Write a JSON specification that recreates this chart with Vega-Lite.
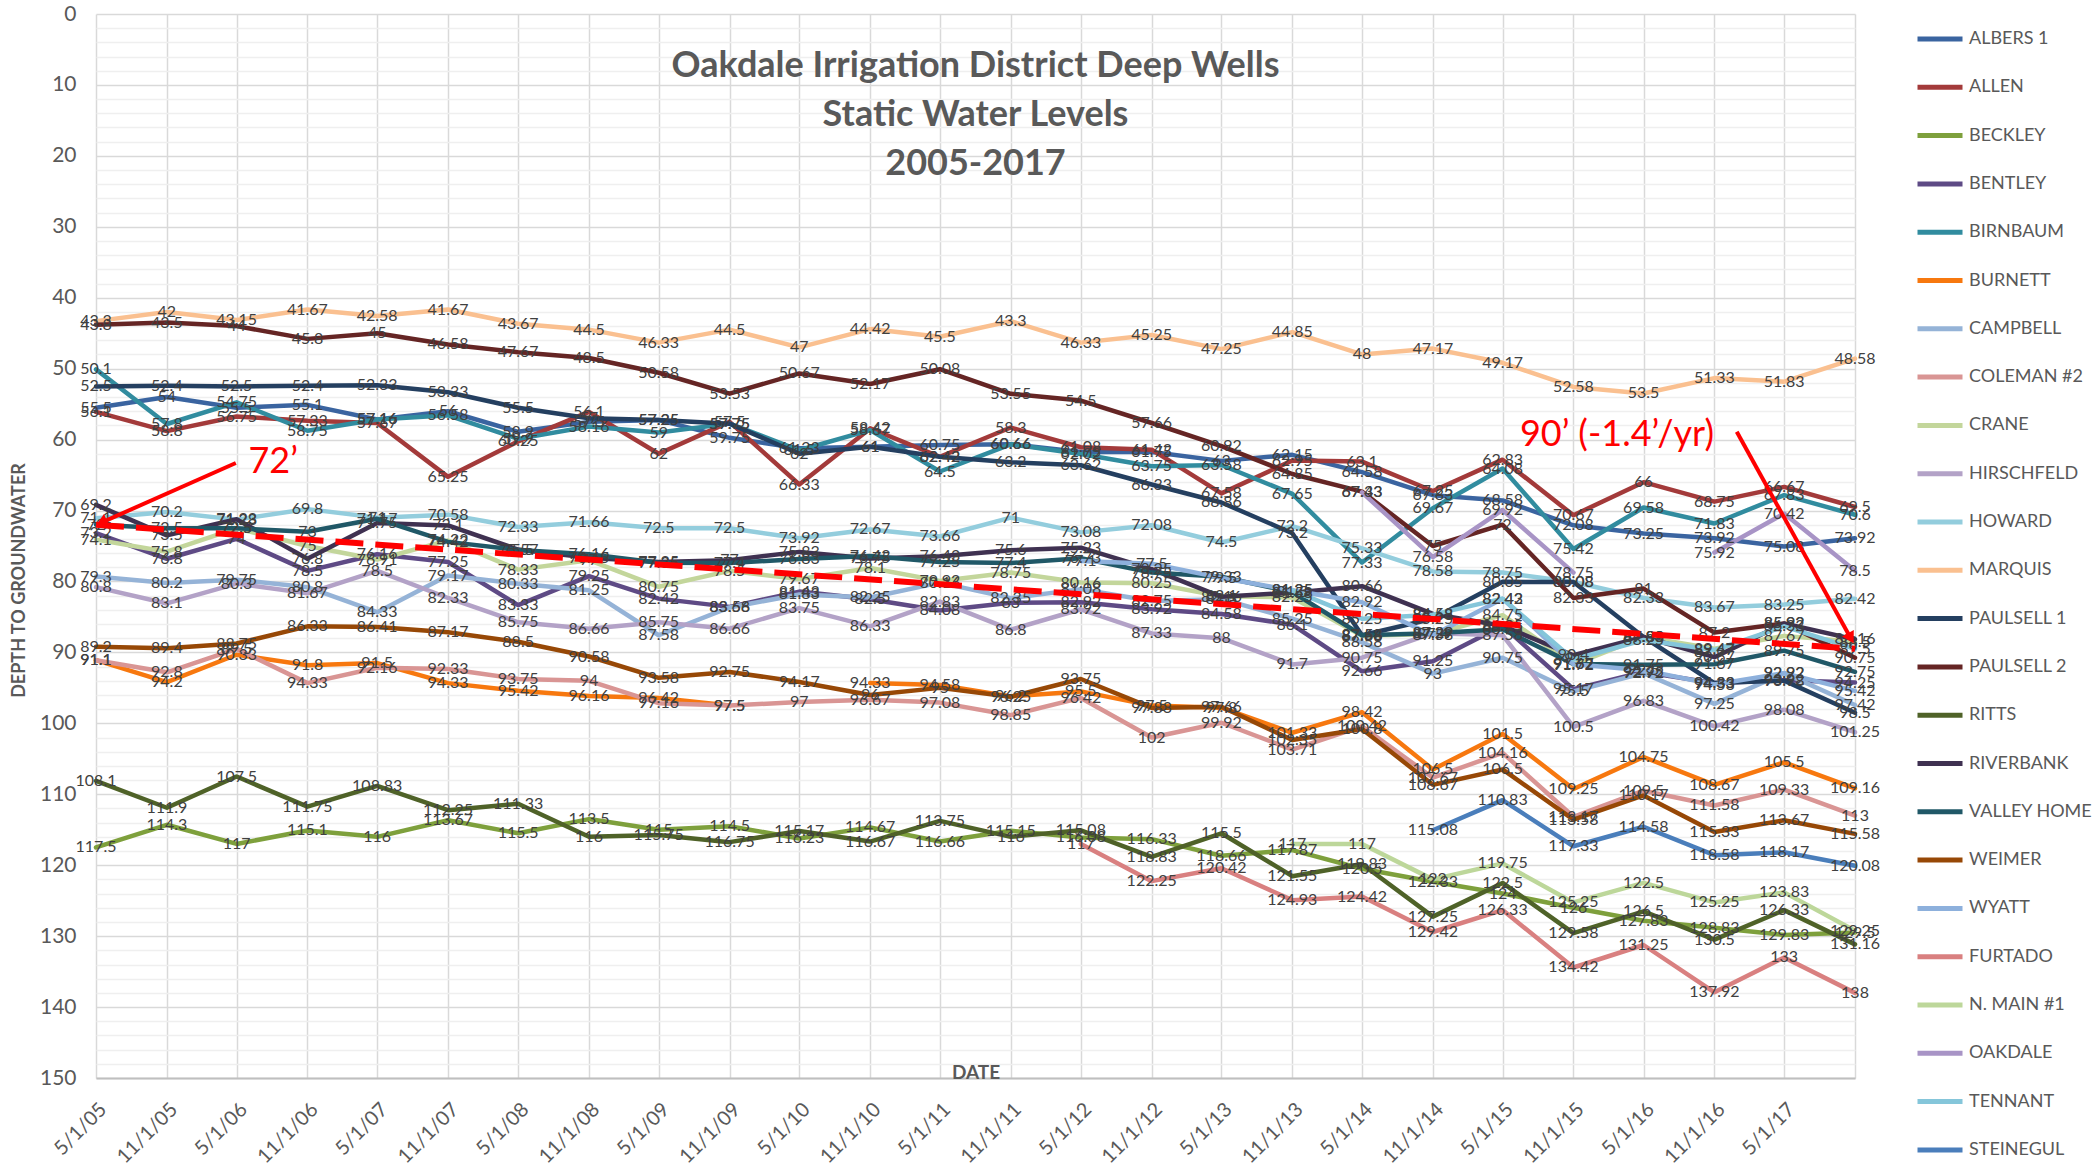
{
"$schema": "https://vega.github.io/schema/vega-lite/v6.json",
"autosize": {"type": "none"},
"width": 1759,
"height": 1064,
"padding": {"left": 96, "top": 14, "right": 242, "bottom": 90},
"background": "white",
"config": {"font": "Lato", "view": {"stroke": null}},
"title": {"text": ["Oakdale Irrigation District Deep Wells", "Static Water Levels", "2005-2017"], "fontSize": 36, "fontWeight": "bold", "color": "#595959", "lineHeight": 49, "anchor": "middle", "baseline": "bottom", "offset": 0, "dy": 216, "font": "Lato"},
"encoding": {
  "x": {"field": "date", "type": "temporal",
    "scale": {"type": "utc", "domain": [{"year": 2005, "month": 5, "date": 1, "utc": true}, {"year": 2017, "month": 11, "date": 1, "utc": true}], "nice": false},
    "axis": {"values": [
      {"year": 2005, "month": 5, "date": 1, "utc": true}, {"year": 2005, "month": 11, "date": 1, "utc": true},
      {"year": 2006, "month": 5, "date": 1, "utc": true}, {"year": 2006, "month": 11, "date": 1, "utc": true},
      {"year": 2007, "month": 5, "date": 1, "utc": true}, {"year": 2007, "month": 11, "date": 1, "utc": true},
      {"year": 2008, "month": 5, "date": 1, "utc": true}, {"year": 2008, "month": 11, "date": 1, "utc": true},
      {"year": 2009, "month": 5, "date": 1, "utc": true}, {"year": 2009, "month": 11, "date": 1, "utc": true},
      {"year": 2010, "month": 5, "date": 1, "utc": true}, {"year": 2010, "month": 11, "date": 1, "utc": true},
      {"year": 2011, "month": 5, "date": 1, "utc": true}, {"year": 2011, "month": 11, "date": 1, "utc": true},
      {"year": 2012, "month": 5, "date": 1, "utc": true}, {"year": 2012, "month": 11, "date": 1, "utc": true},
      {"year": 2013, "month": 5, "date": 1, "utc": true}, {"year": 2013, "month": 11, "date": 1, "utc": true},
      {"year": 2014, "month": 5, "date": 1, "utc": true}, {"year": 2014, "month": 11, "date": 1, "utc": true},
      {"year": 2015, "month": 5, "date": 1, "utc": true}, {"year": 2015, "month": 11, "date": 1, "utc": true},
      {"year": 2016, "month": 5, "date": 1, "utc": true}, {"year": 2016, "month": 11, "date": 1, "utc": true},
      {"year": 2017, "month": 5, "date": 1, "utc": true}, {"year": 2017, "month": 11, "date": 1, "utc": true}],
      "labelExpr": "utcyear(datum.value) == 2017 && utcmonth(datum.value) == 10 ? '' : utcFormat(datum.value, '%-m/%-d/%y')",
      "labelAngle": -45, "labelFontSize": 20, "labelColor": "#595959", "labelPadding": 21, "labelOverlap": false, "labelFlush": false,
      "grid": true, "gridColor": "#d9d9d9", "gridWidth": 1.5, "ticks": false,
      "domainColor": "#bfbfbf", "domainWidth": 2,
      "title": "DATE", "titleFontSize": 19, "titleFontWeight": "bold", "titleColor": "#595959", "titleY": 4, "titleBaseline": "bottom"}},
  "y": {"field": "depth", "type": "quantitative",
    "scale": {"domain": [0, 150], "reverse": true, "nice": false, "zero": false},
    "axis": {"values": [0,2,4,6,8,10,12,14,16,18,20,22,24,26,28,30,32,34,36,38,40,42,44,46,48,50,52,54,56,58,60,62,64,66,68,70,72,74,76,78,80,82,84,86,88,90,92,94,96,98,100,102,104,106,108,110,112,114,116,118,120,122,124,126,128,130,132,134,136,138,140,142,144,146,148,150],
      "labelExpr": "datum.value % 10 == 0 ? datum.label : ''",
      "gridColor": {"condition": {"test": "datum.value % 10 == 0", "value": "#d9d9d9"}, "value": "#efefef"},
      "gridWidth": 1.5, "ticks": false, "domain": false, "labelFontSize": 21, "labelColor": "#595959", "labelPadding": 20, "labelOverlap": false,
      "title": "DEPTH TO GROUNDWATER", "titleFontSize": 18, "titleFontWeight": "bold", "titleColor": "#595959", "titleX": -77, "titleY": 566, "titleBaseline": "middle"}}
},
"layer": [
{
  "data": {"name": "wells"},
  "mark": {"type": "line", "strokeWidth": 4.5, "strokeCap": "round", "strokeJoin": "round", "invalid": "break-paths-show-domains"},
  "encoding": {
    "color": {"field": "well", "type": "nominal",
      "scale": {"domain": ["ALBERS 1","ALLEN","BECKLEY","BENTLEY","BIRNBAUM","BURNETT","CAMPBELL","COLEMAN #2","CRANE","HIRSCHFELD","HOWARD","MARQUIS","PAULSELL 1","PAULSELL 2","RITTS","RIVERBANK","VALLEY HOME","WEIMER","WYATT","FURTADO","N. MAIN  #1","OAKDALE","TENNANT","STEINEGUL"],
        "range": ["#3A64A0","#A33A3A","#7EA03C","#5E4A85","#318C9F","#F7780F","#95B3D7","#D99594","#C3D69B","#B3A2C7","#93CDDD","#FAC090","#243F60","#652524","#4F6228","#3F3151","#205867","#974806","#8DB0DC","#D98080","#BDD79A","#A894C6","#85C6DA","#4A7EBB"]},
      "legend": {"orient": "none", "legendX": 1819, "legendY": 0, "title": null, "symbolType": "stroke", "symbolSize": 2025, "symbolStrokeWidth": 5, "labelFontSize": 18, "labelColor": "#595959", "labelOffset": 4, "rowPadding": 13.3, "labelFont": "Lato"}}
  }
},
{
  "data": {"name": "wells"},
  "mark": {"type": "text", "fontSize": 16, "color": "#404040", "font": "Lato"},
  "encoding": {"text": {"field": "depth", "type": "quantitative"}}
},
{
  "data": {"values": [{"date": "2005-05-01", "depth": 72}, {"date": "2017-11-01", "depth": 89.5}]},
  "mark": {"type": "line", "color": "#FF0000", "strokeWidth": 6, "strokeDash": [28, 12]},
  "encoding": {}
},
{
  "data": {"values": [
    {"seg": "left", "date": "2006-04-29", "depth": 63.3}, {"seg": "left", "date": "2005-05-15", "depth": 71.7},
    {"seg": "right", "date": "2016-12-29", "depth": 58.9}, {"seg": "right", "date": "2017-10-21", "depth": 88.0}]},
  "mark": {"type": "line", "color": "#FF0000", "strokeWidth": 4},
  "encoding": {"detail": {"field": "seg"}}
},
{
  "data": {"values": [{"date": "2005-05-15", "depth": 71.7}]},
  "mark": {"type": "point", "shape": "triangle-up", "angle": 246, "size": 180, "filled": true, "color": "#FF0000", "opacity": 1},
  "encoding": {}
},
{
  "data": {"values": [{"date": "2017-10-21", "depth": 88.0}]},
  "mark": {"type": "point", "shape": "triangle-up", "angle": 151, "size": 180, "filled": true, "color": "#FF0000", "opacity": 1},
  "encoding": {}
},
{
  "data": {"values": [{"note": "72’", "date": "2006-08-04", "depth": 63.2}, {"note": "90’ (-1.4’/yr)", "date": "2016-02-22", "depth": 59.4}]},
  "mark": {"type": "text", "fontSize": 36, "color": "#FF0000", "font": "Lato"},
  "encoding": {"text": {"field": "note"}}
}
],
"datasets": {"wells": [
{"well":"ALBERS 1","date":"2005-05-01","depth":55.5},{"well":"ALBERS 1","date":"2005-11-01","depth":54},{"well":"ALBERS 1","date":"2006-05-01","depth":55.5},{"well":"ALBERS 1","date":"2006-11-01","depth":55.1},{"well":"ALBERS 1","date":"2007-05-01","depth":57.16},{"well":"ALBERS 1","date":"2007-11-01","depth":56},{"well":"ALBERS 1","date":"2008-05-01","depth":58.9},{"well":"ALBERS 1","date":"2008-11-01","depth":57.5},{"well":"ALBERS 1","date":"2009-05-01","depth":57.25},{"well":"ALBERS 1","date":"2009-11-01","depth":59.75},{"well":"ALBERS 1","date":"2010-05-01","depth":61.23},{"well":"ALBERS 1","date":"2010-11-01","depth":61},{"well":"ALBERS 1","date":"2011-05-01","depth":60.75},{"well":"ALBERS 1","date":"2011-11-01","depth":60.66},{"well":"ALBERS 1","date":"2012-05-01","depth":61.75},{"well":"ALBERS 1","date":"2012-11-01","depth":61.75},{"well":"ALBERS 1","date":"2013-05-01","depth":63},{"well":"ALBERS 1","date":"2013-11-01","depth":62.15},{"well":"ALBERS 1","date":"2014-05-01","depth":64.58},{"well":"ALBERS 1","date":"2014-11-01","depth":67.83},{"well":"ALBERS 1","date":"2015-05-01","depth":68.58},{"well":"ALBERS 1","date":"2015-11-01","depth":72.08},{"well":"ALBERS 1","date":"2016-05-01","depth":73.25},{"well":"ALBERS 1","date":"2016-11-01","depth":73.92},{"well":"ALBERS 1","date":"2017-05-01","depth":75.08},{"well":"ALBERS 1","date":"2017-11-01","depth":73.92},
{"well":"ALLEN","date":"2005-05-01","depth":56.1},{"well":"ALLEN","date":"2005-11-01","depth":58.8},{"well":"ALLEN","date":"2006-05-01","depth":56.75},{"well":"ALLEN","date":"2006-11-01","depth":57.33},{"well":"ALLEN","date":"2007-05-01","depth":57.67},{"well":"ALLEN","date":"2007-11-01","depth":65.25},{"well":"ALLEN","date":"2008-05-01","depth":60.25},{"well":"ALLEN","date":"2008-11-01","depth":56.1},{"well":"ALLEN","date":"2009-05-01","depth":62},{"well":"ALLEN","date":"2009-11-01","depth":57.5},{"well":"ALLEN","date":"2010-05-01","depth":66.33},{"well":"ALLEN","date":"2010-11-01","depth":58.42},{"well":"ALLEN","date":"2011-05-01","depth":62.42},{"well":"ALLEN","date":"2011-11-01","depth":58.3},{"well":"ALLEN","date":"2012-05-01","depth":61.08},{"well":"ALLEN","date":"2012-11-01","depth":61.42},{"well":"ALLEN","date":"2013-05-01","depth":67.58},{"well":"ALLEN","date":"2013-11-01","depth":62.95},{"well":"ALLEN","date":"2014-05-01","depth":63.1},{"well":"ALLEN","date":"2014-11-01","depth":67.25},{"well":"ALLEN","date":"2015-05-01","depth":62.83},{"well":"ALLEN","date":"2015-11-01","depth":70.67},{"well":"ALLEN","date":"2016-05-01","depth":66},{"well":"ALLEN","date":"2016-11-01","depth":68.75},{"well":"ALLEN","date":"2017-05-01","depth":66.67},{"well":"ALLEN","date":"2017-11-01","depth":69.5},
{"well":"BECKLEY","date":"2005-05-01","depth":117.5},{"well":"BECKLEY","date":"2005-11-01","depth":114.3},{"well":"BECKLEY","date":"2006-05-01","depth":117},{"well":"BECKLEY","date":"2006-11-01","depth":115.1},{"well":"BECKLEY","date":"2007-05-01","depth":116},{"well":"BECKLEY","date":"2007-11-01","depth":113.67},{"well":"BECKLEY","date":"2008-05-01","depth":115.5},{"well":"BECKLEY","date":"2008-11-01","depth":113.5},{"well":"BECKLEY","date":"2009-05-01","depth":115},{"well":"BECKLEY","date":"2009-11-01","depth":114.5},{"well":"BECKLEY","date":"2010-05-01","depth":116.23},{"well":"BECKLEY","date":"2010-11-01","depth":114.67},{"well":"BECKLEY","date":"2011-05-01","depth":116.66},{"well":"BECKLEY","date":"2011-11-01","depth":115.15},{"well":"BECKLEY","date":"2012-05-01","depth":116.08},{"well":"BECKLEY","date":"2012-11-01","depth":116.33},{"well":"BECKLEY","date":"2013-05-01","depth":118.66},{"well":"BECKLEY","date":"2013-11-01","depth":117.87},{"well":"BECKLEY","date":"2014-05-01","depth":120.5},{"well":"BECKLEY","date":"2014-11-01","depth":122.33},{"well":"BECKLEY","date":"2015-05-01","depth":124},{"well":"BECKLEY","date":"2015-11-01","depth":126},{"well":"BECKLEY","date":"2016-05-01","depth":127.83},{"well":"BECKLEY","date":"2016-11-01","depth":128.83},{"well":"BECKLEY","date":"2017-05-01","depth":129.83},{"well":"BECKLEY","date":"2017-11-01","depth":129.5},
{"well":"BENTLEY","date":"2005-05-01","depth":73.2},{"well":"BENTLEY","date":"2005-11-01","depth":76.8},{"well":"BENTLEY","date":"2006-05-01","depth":74},{"well":"BENTLEY","date":"2006-11-01","depth":78.5},{"well":"BENTLEY","date":"2007-05-01","depth":76.16},{"well":"BENTLEY","date":"2007-11-01","depth":77.25},{"well":"BENTLEY","date":"2008-05-01","depth":83.33},{"well":"BENTLEY","date":"2008-11-01","depth":79.25},{"well":"BENTLEY","date":"2009-05-01","depth":82.42},{"well":"BENTLEY","date":"2009-11-01","depth":83.58},{"well":"BENTLEY","date":"2010-05-01","depth":81.43},{"well":"BENTLEY","date":"2010-11-01","depth":82.5},{"well":"BENTLEY","date":"2011-05-01","depth":84.08},{"well":"BENTLEY","date":"2011-11-01","depth":83},{"well":"BENTLEY","date":"2012-05-01","depth":82.92},{"well":"BENTLEY","date":"2012-11-01","depth":83.92},{"well":"BENTLEY","date":"2013-05-01","depth":84.58},{"well":"BENTLEY","date":"2013-11-01","depth":86.1},{"well":"BENTLEY","date":"2014-05-01","depth":92.66},{"well":"BENTLEY","date":"2014-11-01","depth":91.25},{"well":"BENTLEY","date":"2015-05-01","depth":86.25},{"well":"BENTLEY","date":"2015-11-01","depth":95.17},{"well":"BENTLEY","date":"2016-05-01","depth":92.75},{"well":"BENTLEY","date":"2016-11-01","depth":94.33},{"well":"BENTLEY","date":"2017-05-01","depth":93.92},{"well":"BENTLEY","date":"2017-11-01","depth":94.25},
{"well":"BIRNBAUM","date":"2005-05-01","depth":50.1},{"well":"BIRNBAUM","date":"2005-11-01","depth":57.8},{"well":"BIRNBAUM","date":"2006-05-01","depth":54.75},{"well":"BIRNBAUM","date":"2006-11-01","depth":58.75},{"well":"BIRNBAUM","date":"2007-05-01","depth":57.16},{"well":"BIRNBAUM","date":"2007-11-01","depth":56.58},{"well":"BIRNBAUM","date":"2008-05-01","depth":59.9},{"well":"BIRNBAUM","date":"2008-11-01","depth":58.16},{"well":"BIRNBAUM","date":"2009-05-01","depth":59},{"well":"BIRNBAUM","date":"2009-11-01","depth":57.75},{"well":"BIRNBAUM","date":"2010-05-01","depth":61.5},{"well":"BIRNBAUM","date":"2010-11-01","depth":58.67},{"well":"BIRNBAUM","date":"2011-05-01","depth":64.5},{"well":"BIRNBAUM","date":"2011-11-01","depth":60.66},{"well":"BIRNBAUM","date":"2012-05-01","depth":62.02},{"well":"BIRNBAUM","date":"2012-11-01","depth":63.75},{"well":"BIRNBAUM","date":"2013-05-01","depth":63.58},{"well":"BIRNBAUM","date":"2013-11-01","depth":67.65},{"well":"BIRNBAUM","date":"2014-05-01","depth":77.33},{"well":"BIRNBAUM","date":"2014-11-01","depth":69.67},{"well":"BIRNBAUM","date":"2015-05-01","depth":64.08},{"well":"BIRNBAUM","date":"2015-11-01","depth":75.42},{"well":"BIRNBAUM","date":"2016-05-01","depth":69.58},{"well":"BIRNBAUM","date":"2016-11-01","depth":71.83},{"well":"BIRNBAUM","date":"2017-05-01","depth":67.83},{"well":"BIRNBAUM","date":"2017-11-01","depth":70.6},
{"well":"BURNETT","date":"2005-05-01","depth":91.1},{"well":"BURNETT","date":"2005-11-01","depth":94.2},{"well":"BURNETT","date":"2006-05-01","depth":90.33},{"well":"BURNETT","date":"2006-11-01","depth":91.8},{"well":"BURNETT","date":"2007-05-01","depth":91.5},{"well":"BURNETT","date":"2007-11-01","depth":94.33},{"well":"BURNETT","date":"2008-05-01","depth":95.42},{"well":"BURNETT","date":"2008-11-01","depth":96.16},{"well":"BURNETT","date":"2009-05-01","depth":96.42},{"well":"BURNETT","date":"2009-11-01","depth":97.5},{"well":"BURNETT","date":"2010-05-01","depth":null},{"well":"BURNETT","date":"2010-11-01","depth":94.33},{"well":"BURNETT","date":"2011-05-01","depth":94.58},{"well":"BURNETT","date":"2011-11-01","depth":96.2},{"well":"BURNETT","date":"2012-05-01","depth":95.5},{"well":"BURNETT","date":"2012-11-01","depth":97.5},{"well":"BURNETT","date":"2013-05-01","depth":97.8},{"well":"BURNETT","date":"2013-11-01","depth":101.33},{"well":"BURNETT","date":"2014-05-01","depth":98.42},{"well":"BURNETT","date":"2014-11-01","depth":106.5},{"well":"BURNETT","date":"2015-05-01","depth":101.5},{"well":"BURNETT","date":"2015-11-01","depth":109.25},{"well":"BURNETT","date":"2016-05-01","depth":104.75},{"well":"BURNETT","date":"2016-11-01","depth":108.67},{"well":"BURNETT","date":"2017-05-01","depth":105.5},{"well":"BURNETT","date":"2017-11-01","depth":109.16},
{"well":"CAMPBELL","date":"2005-05-01","depth":79.3},{"well":"CAMPBELL","date":"2005-11-01","depth":80.2},{"well":"CAMPBELL","date":"2006-05-01","depth":79.75},{"well":"CAMPBELL","date":"2006-11-01","depth":80.8},{"well":"CAMPBELL","date":"2007-05-01","depth":84.33},{"well":"CAMPBELL","date":"2007-11-01","depth":79.17},{"well":"CAMPBELL","date":"2008-05-01","depth":80.33},{"well":"CAMPBELL","date":"2008-11-01","depth":81.25},{"well":"CAMPBELL","date":"2009-05-01","depth":87.58},{"well":"CAMPBELL","date":"2009-11-01","depth":83.66},{"well":"CAMPBELL","date":"2010-05-01","depth":81.83},{"well":"CAMPBELL","date":"2010-11-01","depth":82.25},{"well":"CAMPBELL","date":"2011-05-01","depth":80.16},{"well":"CAMPBELL","date":"2011-11-01","depth":82.35},{"well":"CAMPBELL","date":"2012-05-01","depth":81.08},{"well":"CAMPBELL","date":"2012-11-01","depth":82.75},{"well":"CAMPBELL","date":"2013-05-01","depth":82.5},{"well":"CAMPBELL","date":"2013-11-01","depth":85.25},{"well":"CAMPBELL","date":"2014-05-01","depth":88.58},{"well":"CAMPBELL","date":"2014-11-01","depth":93},{"well":"CAMPBELL","date":"2015-05-01","depth":90.75},{"well":"CAMPBELL","date":"2015-11-01","depth":95.5},{"well":"CAMPBELL","date":"2016-05-01","depth":92.92},{"well":"CAMPBELL","date":"2016-11-01","depth":97.25},{"well":"CAMPBELL","date":"2017-05-01","depth":92.92},{"well":"CAMPBELL","date":"2017-11-01","depth":97.42},
{"well":"COLEMAN #2","date":"2005-05-01","depth":91.1},{"well":"COLEMAN #2","date":"2005-11-01","depth":92.8},{"well":"COLEMAN #2","date":"2006-05-01","depth":89.5},{"well":"COLEMAN #2","date":"2006-11-01","depth":94.33},{"well":"COLEMAN #2","date":"2007-05-01","depth":92.16},{"well":"COLEMAN #2","date":"2007-11-01","depth":92.33},{"well":"COLEMAN #2","date":"2008-05-01","depth":93.75},{"well":"COLEMAN #2","date":"2008-11-01","depth":94},{"well":"COLEMAN #2","date":"2009-05-01","depth":97.16},{"well":"COLEMAN #2","date":"2009-11-01","depth":97.5},{"well":"COLEMAN #2","date":"2010-05-01","depth":97},{"well":"COLEMAN #2","date":"2010-11-01","depth":96.67},{"well":"COLEMAN #2","date":"2011-05-01","depth":97.08},{"well":"COLEMAN #2","date":"2011-11-01","depth":98.85},{"well":"COLEMAN #2","date":"2012-05-01","depth":96.42},{"well":"COLEMAN #2","date":"2012-11-01","depth":102},{"well":"COLEMAN #2","date":"2013-05-01","depth":99.92},{"well":"COLEMAN #2","date":"2013-11-01","depth":103.71},{"well":"COLEMAN #2","date":"2014-05-01","depth":100.42},{"well":"COLEMAN #2","date":"2014-11-01","depth":107.67},{"well":"COLEMAN #2","date":"2015-05-01","depth":104.16},{"well":"COLEMAN #2","date":"2015-11-01","depth":113.17},{"well":"COLEMAN #2","date":"2016-05-01","depth":109.5},{"well":"COLEMAN #2","date":"2016-11-01","depth":111.58},{"well":"COLEMAN #2","date":"2017-05-01","depth":109.33},{"well":"COLEMAN #2","date":"2017-11-01","depth":113},
{"well":"CRANE","date":"2005-05-01","depth":74.1},{"well":"CRANE","date":"2005-11-01","depth":75.8},{"well":"CRANE","date":"2006-05-01","depth":72.5},{"well":"CRANE","date":"2006-11-01","depth":75},{"well":"CRANE","date":"2007-05-01","depth":76.91},{"well":"CRANE","date":"2007-11-01","depth":74.22},{"well":"CRANE","date":"2008-05-01","depth":78.33},{"well":"CRANE","date":"2008-11-01","depth":77},{"well":"CRANE","date":"2009-05-01","depth":80.75},{"well":"CRANE","date":"2009-11-01","depth":78.5},{"well":"CRANE","date":"2010-05-01","depth":79.67},{"well":"CRANE","date":"2010-11-01","depth":78.1},{"well":"CRANE","date":"2011-05-01","depth":79.92},{"well":"CRANE","date":"2011-11-01","depth":78.75},{"well":"CRANE","date":"2012-05-01","depth":80.16},{"well":"CRANE","date":"2012-11-01","depth":80.25},{"well":"CRANE","date":"2013-05-01","depth":82.1},{"well":"CRANE","date":"2013-11-01","depth":82.25},{"well":"CRANE","date":"2014-05-01","depth":87.66},{"well":"CRANE","date":"2014-11-01","depth":87.4},{"well":"CRANE","date":"2015-05-01","depth":84.75},{"well":"CRANE","date":"2015-11-01","depth":91.72},{"well":"CRANE","date":"2016-05-01","depth":87.83},{"well":"CRANE","date":"2016-11-01","depth":89.47},{"well":"CRANE","date":"2017-05-01","depth":87.67},{"well":"CRANE","date":"2017-11-01","depth":88.5},
{"well":"HIRSCHFELD","date":"2005-05-01","depth":80.8},{"well":"HIRSCHFELD","date":"2005-11-01","depth":83.1},{"well":"HIRSCHFELD","date":"2006-05-01","depth":80.3},{"well":"HIRSCHFELD","date":"2006-11-01","depth":81.67},{"well":"HIRSCHFELD","date":"2007-05-01","depth":78.5},{"well":"HIRSCHFELD","date":"2007-11-01","depth":82.33},{"well":"HIRSCHFELD","date":"2008-05-01","depth":85.75},{"well":"HIRSCHFELD","date":"2008-11-01","depth":86.66},{"well":"HIRSCHFELD","date":"2009-05-01","depth":85.75},{"well":"HIRSCHFELD","date":"2009-11-01","depth":86.66},{"well":"HIRSCHFELD","date":"2010-05-01","depth":83.75},{"well":"HIRSCHFELD","date":"2010-11-01","depth":86.33},{"well":"HIRSCHFELD","date":"2011-05-01","depth":82.83},{"well":"HIRSCHFELD","date":"2011-11-01","depth":86.8},{"well":"HIRSCHFELD","date":"2012-05-01","depth":83.92},{"well":"HIRSCHFELD","date":"2012-11-01","depth":87.33},{"well":"HIRSCHFELD","date":"2013-05-01","depth":88},{"well":"HIRSCHFELD","date":"2013-11-01","depth":91.7},{"well":"HIRSCHFELD","date":"2014-05-01","depth":90.75},{"well":"HIRSCHFELD","date":"2014-11-01","depth":87.29},{"well":"HIRSCHFELD","date":"2015-05-01","depth":87.58},{"well":"HIRSCHFELD","date":"2015-11-01","depth":100.5},{"well":"HIRSCHFELD","date":"2016-05-01","depth":96.83},{"well":"HIRSCHFELD","date":"2016-11-01","depth":100.42},{"well":"HIRSCHFELD","date":"2017-05-01","depth":98.08},{"well":"HIRSCHFELD","date":"2017-11-01","depth":101.25},
{"well":"HOWARD","date":"2005-05-01","depth":71.1},{"well":"HOWARD","date":"2005-11-01","depth":70.2},{"well":"HOWARD","date":"2006-05-01","depth":71.28},{"well":"HOWARD","date":"2006-11-01","depth":69.8},{"well":"HOWARD","date":"2007-05-01","depth":71},{"well":"HOWARD","date":"2007-11-01","depth":70.58},{"well":"HOWARD","date":"2008-05-01","depth":72.33},{"well":"HOWARD","date":"2008-11-01","depth":71.66},{"well":"HOWARD","date":"2009-05-01","depth":72.5},{"well":"HOWARD","date":"2009-11-01","depth":72.5},{"well":"HOWARD","date":"2010-05-01","depth":73.92},{"well":"HOWARD","date":"2010-11-01","depth":72.67},{"well":"HOWARD","date":"2011-05-01","depth":73.66},{"well":"HOWARD","date":"2011-11-01","depth":71},{"well":"HOWARD","date":"2012-05-01","depth":73.08},{"well":"HOWARD","date":"2012-11-01","depth":72.08},{"well":"HOWARD","date":"2013-05-01","depth":74.5},{"well":"HOWARD","date":"2013-11-01","depth":72.2},{"well":"HOWARD","date":"2014-05-01","depth":75.33},{"well":"HOWARD","date":"2014-11-01","depth":78.58},{"well":"HOWARD","date":"2015-05-01","depth":78.75},{"well":"HOWARD","date":"2015-11-01","depth":80.08},{"well":"HOWARD","date":"2016-05-01","depth":82.33},{"well":"HOWARD","date":"2016-11-01","depth":83.67},{"well":"HOWARD","date":"2017-05-01","depth":83.25},{"well":"HOWARD","date":"2017-11-01","depth":82.42},
{"well":"MARQUIS","date":"2005-05-01","depth":43.3},{"well":"MARQUIS","date":"2005-11-01","depth":42},{"well":"MARQUIS","date":"2006-05-01","depth":43.15},{"well":"MARQUIS","date":"2006-11-01","depth":41.67},{"well":"MARQUIS","date":"2007-05-01","depth":42.58},{"well":"MARQUIS","date":"2007-11-01","depth":41.67},{"well":"MARQUIS","date":"2008-05-01","depth":43.67},{"well":"MARQUIS","date":"2008-11-01","depth":44.5},{"well":"MARQUIS","date":"2009-05-01","depth":46.33},{"well":"MARQUIS","date":"2009-11-01","depth":44.5},{"well":"MARQUIS","date":"2010-05-01","depth":47},{"well":"MARQUIS","date":"2010-11-01","depth":44.42},{"well":"MARQUIS","date":"2011-05-01","depth":45.5},{"well":"MARQUIS","date":"2011-11-01","depth":43.3},{"well":"MARQUIS","date":"2012-05-01","depth":46.33},{"well":"MARQUIS","date":"2012-11-01","depth":45.25},{"well":"MARQUIS","date":"2013-05-01","depth":47.25},{"well":"MARQUIS","date":"2013-11-01","depth":44.85},{"well":"MARQUIS","date":"2014-05-01","depth":48},{"well":"MARQUIS","date":"2014-11-01","depth":47.17},{"well":"MARQUIS","date":"2015-05-01","depth":49.17},{"well":"MARQUIS","date":"2015-11-01","depth":52.58},{"well":"MARQUIS","date":"2016-05-01","depth":53.5},{"well":"MARQUIS","date":"2016-11-01","depth":51.33},{"well":"MARQUIS","date":"2017-05-01","depth":51.83},{"well":"MARQUIS","date":"2017-11-01","depth":48.58},
{"well":"PAULSELL 1","date":"2005-05-01","depth":52.5},{"well":"PAULSELL 1","date":"2005-11-01","depth":52.4},{"well":"PAULSELL 1","date":"2006-05-01","depth":52.5},{"well":"PAULSELL 1","date":"2006-11-01","depth":52.4},{"well":"PAULSELL 1","date":"2007-05-01","depth":52.33},{"well":"PAULSELL 1","date":"2007-11-01","depth":53.33},{"well":"PAULSELL 1","date":"2008-05-01","depth":55.5},{"well":"PAULSELL 1","date":"2008-11-01","depth":57},{"well":"PAULSELL 1","date":"2009-05-01","depth":57.25},{"well":"PAULSELL 1","date":"2009-11-01","depth":57.75},{"well":"PAULSELL 1","date":"2010-05-01","depth":62},{"well":"PAULSELL 1","date":"2010-11-01","depth":61},{"well":"PAULSELL 1","date":"2011-05-01","depth":62.42},{"well":"PAULSELL 1","date":"2011-11-01","depth":63.2},{"well":"PAULSELL 1","date":"2012-05-01","depth":63.62},{"well":"PAULSELL 1","date":"2012-11-01","depth":66.33},{"well":"PAULSELL 1","date":"2013-05-01","depth":68.86},{"well":"PAULSELL 1","date":"2013-11-01","depth":73.2},{"well":"PAULSELL 1","date":"2014-05-01","depth":87.58},{"well":"PAULSELL 1","date":"2014-11-01","depth":85.25},{"well":"PAULSELL 1","date":"2015-05-01","depth":80.05},{"well":"PAULSELL 1","date":"2015-11-01","depth":80.08},{"well":"PAULSELL 1","date":"2016-05-01","depth":87.83},{"well":"PAULSELL 1","date":"2016-11-01","depth":94.33},{"well":"PAULSELL 1","date":"2017-05-01","depth":93.98},{"well":"PAULSELL 1","date":"2017-11-01","depth":98.5},
{"well":"PAULSELL 2","date":"2005-05-01","depth":43.8},{"well":"PAULSELL 2","date":"2005-11-01","depth":43.5},{"well":"PAULSELL 2","date":"2006-05-01","depth":44},{"well":"PAULSELL 2","date":"2006-11-01","depth":45.8},{"well":"PAULSELL 2","date":"2007-05-01","depth":45},{"well":"PAULSELL 2","date":"2007-11-01","depth":46.58},{"well":"PAULSELL 2","date":"2008-05-01","depth":47.67},{"well":"PAULSELL 2","date":"2008-11-01","depth":48.5},{"well":"PAULSELL 2","date":"2009-05-01","depth":50.58},{"well":"PAULSELL 2","date":"2009-11-01","depth":53.53},{"well":"PAULSELL 2","date":"2010-05-01","depth":50.67},{"well":"PAULSELL 2","date":"2010-11-01","depth":52.17},{"well":"PAULSELL 2","date":"2011-05-01","depth":50.08},{"well":"PAULSELL 2","date":"2011-11-01","depth":53.55},{"well":"PAULSELL 2","date":"2012-05-01","depth":54.5},{"well":"PAULSELL 2","date":"2012-11-01","depth":57.66},{"well":"PAULSELL 2","date":"2013-05-01","depth":60.92},{"well":"PAULSELL 2","date":"2013-11-01","depth":64.85},{"well":"PAULSELL 2","date":"2014-05-01","depth":67.33},{"well":"PAULSELL 2","date":"2014-11-01","depth":75},{"well":"PAULSELL 2","date":"2015-05-01","depth":72},{"well":"PAULSELL 2","date":"2015-11-01","depth":82.33},{"well":"PAULSELL 2","date":"2016-05-01","depth":81},{"well":"PAULSELL 2","date":"2016-11-01","depth":87.2},{"well":"PAULSELL 2","date":"2017-05-01","depth":85.92},{"well":"PAULSELL 2","date":"2017-11-01","depth":90.75},
{"well":"RITTS","date":"2005-05-01","depth":108.1},{"well":"RITTS","date":"2005-11-01","depth":111.9},{"well":"RITTS","date":"2006-05-01","depth":107.5},{"well":"RITTS","date":"2006-11-01","depth":111.75},{"well":"RITTS","date":"2007-05-01","depth":108.83},{"well":"RITTS","date":"2007-11-01","depth":112.25},{"well":"RITTS","date":"2008-05-01","depth":111.33},{"well":"RITTS","date":"2008-11-01","depth":116},{"well":"RITTS","date":"2009-05-01","depth":115.75},{"well":"RITTS","date":"2009-11-01","depth":116.75},{"well":"RITTS","date":"2010-05-01","depth":115.17},{"well":"RITTS","date":"2010-11-01","depth":116.67},{"well":"RITTS","date":"2011-05-01","depth":113.75},{"well":"RITTS","date":"2011-11-01","depth":116},{"well":"RITTS","date":"2012-05-01","depth":115.08},{"well":"RITTS","date":"2012-11-01","depth":118.83},{"well":"RITTS","date":"2013-05-01","depth":115.5},{"well":"RITTS","date":"2013-11-01","depth":121.55},{"well":"RITTS","date":"2014-05-01","depth":119.83},{"well":"RITTS","date":"2014-11-01","depth":127.25},{"well":"RITTS","date":"2015-05-01","depth":122.5},{"well":"RITTS","date":"2015-11-01","depth":129.58},{"well":"RITTS","date":"2016-05-01","depth":126.5},{"well":"RITTS","date":"2016-11-01","depth":130.5},{"well":"RITTS","date":"2017-05-01","depth":126.33},{"well":"RITTS","date":"2017-11-01","depth":131.16},
{"well":"RIVERBANK","date":"2005-05-01","depth":69.2},{"well":"RIVERBANK","date":"2005-11-01","depth":73.5},{"well":"RIVERBANK","date":"2006-05-01","depth":71.23},{"well":"RIVERBANK","date":"2006-11-01","depth":76.8},{"well":"RIVERBANK","date":"2007-05-01","depth":71.75},{"well":"RIVERBANK","date":"2007-11-01","depth":72.1},{"well":"RIVERBANK","date":"2008-05-01","depth":75.5},{"well":"RIVERBANK","date":"2008-11-01","depth":76.65},{"well":"RIVERBANK","date":"2009-05-01","depth":77.25},{"well":"RIVERBANK","date":"2009-11-01","depth":77},{"well":"RIVERBANK","date":"2010-05-01","depth":75.83},{"well":"RIVERBANK","date":"2010-11-01","depth":76.75},{"well":"RIVERBANK","date":"2011-05-01","depth":76.43},{"well":"RIVERBANK","date":"2011-11-01","depth":75.6},{"well":"RIVERBANK","date":"2012-05-01","depth":75.23},{"well":"RIVERBANK","date":"2012-11-01","depth":78.25},{"well":"RIVERBANK","date":"2013-05-01","depth":82.16},{"well":"RIVERBANK","date":"2013-11-01","depth":81.58},{"well":"RIVERBANK","date":"2014-05-01","depth":80.66},{"well":"RIVERBANK","date":"2014-11-01","depth":84.58},{"well":"RIVERBANK","date":"2015-05-01","depth":86.25},{"well":"RIVERBANK","date":"2015-11-01","depth":90.4},{"well":"RIVERBANK","date":"2016-05-01","depth":87.83},{"well":"RIVERBANK","date":"2016-11-01","depth":90.67},{"well":"RIVERBANK","date":"2017-05-01","depth":85.92},{"well":"RIVERBANK","date":"2017-11-01","depth":88.16},
{"well":"VALLEY HOME","date":"2005-05-01","depth":72},{"well":"VALLEY HOME","date":"2005-11-01","depth":72.5},{"well":"VALLEY HOME","date":"2006-05-01","depth":72.5},{"well":"VALLEY HOME","date":"2006-11-01","depth":73},{"well":"VALLEY HOME","date":"2007-05-01","depth":71.17},{"well":"VALLEY HOME","date":"2007-11-01","depth":74.42},{"well":"VALLEY HOME","date":"2008-05-01","depth":75.57},{"well":"VALLEY HOME","date":"2008-11-01","depth":76.16},{"well":"VALLEY HOME","date":"2009-05-01","depth":77.35},{"well":"VALLEY HOME","date":"2009-11-01","depth":77.4},{"well":"VALLEY HOME","date":"2010-05-01","depth":76.83},{"well":"VALLEY HOME","date":"2010-11-01","depth":76.42},{"well":"VALLEY HOME","date":"2011-05-01","depth":77.25},{"well":"VALLEY HOME","date":"2011-11-01","depth":77.4},{"well":"VALLEY HOME","date":"2012-05-01","depth":76.73},{"well":"VALLEY HOME","date":"2012-11-01","depth":78.75},{"well":"VALLEY HOME","date":"2013-05-01","depth":79.33},{"well":"VALLEY HOME","date":"2013-11-01","depth":81.5},{"well":"VALLEY HOME","date":"2014-05-01","depth":87.58},{"well":"VALLEY HOME","date":"2014-11-01","depth":87.29},{"well":"VALLEY HOME","date":"2015-05-01","depth":86.75},{"well":"VALLEY HOME","date":"2015-11-01","depth":91.62},{"well":"VALLEY HOME","date":"2016-05-01","depth":91.75},{"well":"VALLEY HOME","date":"2016-11-01","depth":91.67},{"well":"VALLEY HOME","date":"2017-05-01","depth":89.75},{"well":"VALLEY HOME","date":"2017-11-01","depth":92.75},
{"well":"WEIMER","date":"2005-05-01","depth":89.2},{"well":"WEIMER","date":"2005-11-01","depth":89.4},{"well":"WEIMER","date":"2006-05-01","depth":88.75},{"well":"WEIMER","date":"2006-11-01","depth":86.33},{"well":"WEIMER","date":"2007-05-01","depth":86.41},{"well":"WEIMER","date":"2007-11-01","depth":87.17},{"well":"WEIMER","date":"2008-05-01","depth":88.5},{"well":"WEIMER","date":"2008-11-01","depth":90.58},{"well":"WEIMER","date":"2009-05-01","depth":93.58},{"well":"WEIMER","date":"2009-11-01","depth":92.75},{"well":"WEIMER","date":"2010-05-01","depth":94.17},{"well":"WEIMER","date":"2010-11-01","depth":96},{"well":"WEIMER","date":"2011-05-01","depth":95},{"well":"WEIMER","date":"2011-11-01","depth":96.25},{"well":"WEIMER","date":"2012-05-01","depth":93.75},{"well":"WEIMER","date":"2012-11-01","depth":97.83},{"well":"WEIMER","date":"2013-05-01","depth":97.66},{"well":"WEIMER","date":"2013-11-01","depth":102.35},{"well":"WEIMER","date":"2014-05-01","depth":100.8},{"well":"WEIMER","date":"2014-11-01","depth":108.67},{"well":"WEIMER","date":"2015-05-01","depth":106.5},{"well":"WEIMER","date":"2015-11-01","depth":113.58},{"well":"WEIMER","date":"2016-05-01","depth":110.17},{"well":"WEIMER","date":"2016-11-01","depth":115.33},{"well":"WEIMER","date":"2017-05-01","depth":113.67},{"well":"WEIMER","date":"2017-11-01","depth":115.58},
{"well":"WYATT","date":"2012-05-01","depth":77.1},{"well":"WYATT","date":"2012-11-01","depth":77.5},{"well":"WYATT","date":"2013-05-01","depth":79.5},{"well":"WYATT","date":"2013-11-01","depth":81.25},{"well":"WYATT","date":"2014-05-01","depth":82.92},{"well":"WYATT","date":"2014-11-01","depth":87.58},{"well":"WYATT","date":"2015-05-01","depth":82.43},{"well":"WYATT","date":"2015-11-01","depth":91.67},{"well":"WYATT","date":"2016-05-01","depth":92.5},{"well":"WYATT","date":"2016-11-01","depth":94.53},{"well":"WYATT","date":"2017-05-01","depth":92.92},{"well":"WYATT","date":"2017-11-01","depth":95.42},
{"well":"FURTADO","date":"2012-05-01","depth":117},{"well":"FURTADO","date":"2012-11-01","depth":122.25},{"well":"FURTADO","date":"2013-05-01","depth":120.42},{"well":"FURTADO","date":"2013-11-01","depth":124.93},{"well":"FURTADO","date":"2014-05-01","depth":124.42},{"well":"FURTADO","date":"2014-11-01","depth":129.42},{"well":"FURTADO","date":"2015-05-01","depth":126.33},{"well":"FURTADO","date":"2015-11-01","depth":134.42},{"well":"FURTADO","date":"2016-05-01","depth":131.25},{"well":"FURTADO","date":"2016-11-01","depth":137.92},{"well":"FURTADO","date":"2017-05-01","depth":133},{"well":"FURTADO","date":"2017-11-01","depth":138},
{"well":"N. MAIN  #1","date":"2013-11-01","depth":117},{"well":"N. MAIN  #1","date":"2014-05-01","depth":117},{"well":"N. MAIN  #1","date":"2014-11-01","depth":122},{"well":"N. MAIN  #1","date":"2015-05-01","depth":119.75},{"well":"N. MAIN  #1","date":"2015-11-01","depth":125.25},{"well":"N. MAIN  #1","date":"2016-05-01","depth":122.5},{"well":"N. MAIN  #1","date":"2016-11-01","depth":125.25},{"well":"N. MAIN  #1","date":"2017-05-01","depth":123.83},{"well":"N. MAIN  #1","date":"2017-11-01","depth":129.25},
{"well":"OAKDALE","date":"2014-05-01","depth":67.43},{"well":"OAKDALE","date":"2014-11-01","depth":76.58},{"well":"OAKDALE","date":"2015-05-01","depth":69.92},{"well":"OAKDALE","date":"2015-11-01","depth":78.75},{"well":"OAKDALE","date":"2016-05-01","depth":null},{"well":"OAKDALE","date":"2016-11-01","depth":75.92},{"well":"OAKDALE","date":"2017-05-01","depth":70.42},{"well":"OAKDALE","date":"2017-11-01","depth":78.5},
{"well":"TENNANT","date":"2013-11-01","depth":81.25},{"well":"TENNANT","date":"2014-05-01","depth":85.25},{"well":"TENNANT","date":"2014-11-01","depth":84.68},{"well":"TENNANT","date":"2015-05-01","depth":82.42},{"well":"TENNANT","date":"2015-11-01","depth":91},{"well":"TENNANT","date":"2016-05-01","depth":88.25},{"well":"TENNANT","date":"2016-11-01","depth":89.67},{"well":"TENNANT","date":"2017-05-01","depth":86.33},{"well":"TENNANT","date":"2017-11-01","depth":89.5},
{"well":"STEINEGUL","date":"2014-11-01","depth":115.08},{"well":"STEINEGUL","date":"2015-05-01","depth":110.83},{"well":"STEINEGUL","date":"2015-11-01","depth":117.33},{"well":"STEINEGUL","date":"2016-05-01","depth":114.58},{"well":"STEINEGUL","date":"2016-11-01","depth":118.58},{"well":"STEINEGUL","date":"2017-05-01","depth":118.17},{"well":"STEINEGUL","date":"2017-11-01","depth":120.08}
]}
}
